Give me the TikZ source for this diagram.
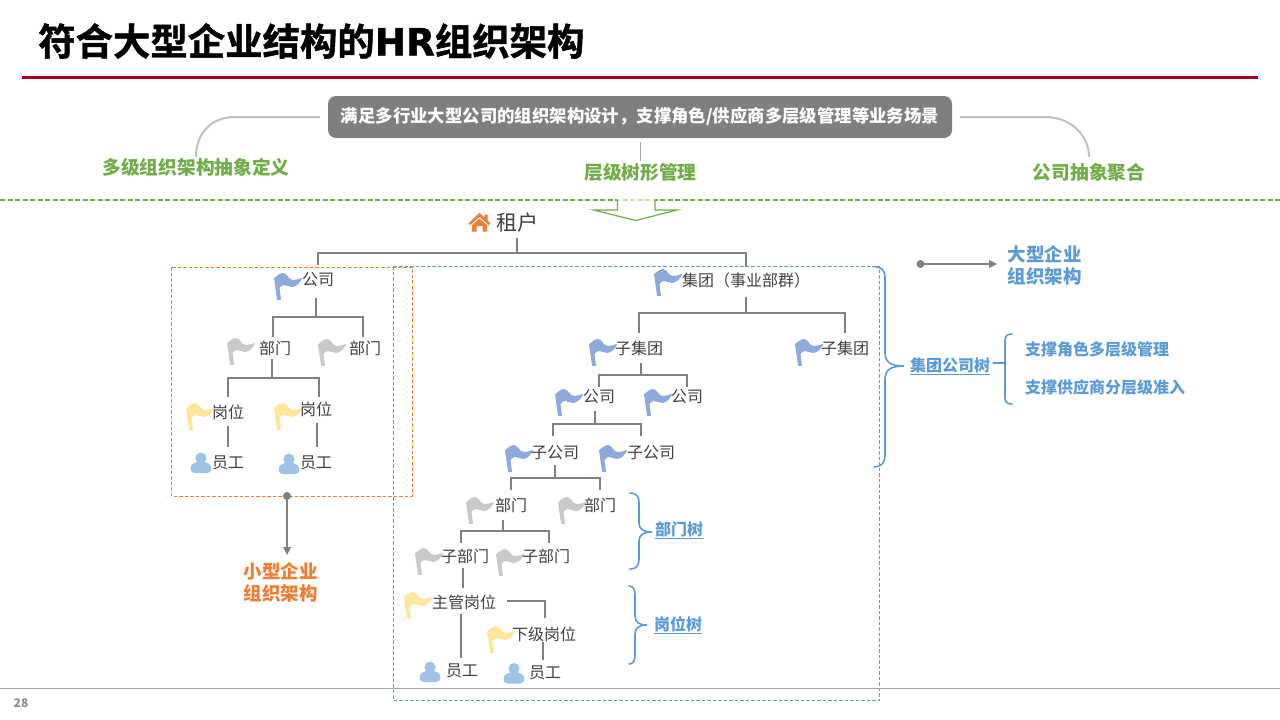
\documentclass[tikz,border=0pt]{standalone}
\usepackage{fontspec}
\usetikzlibrary{calc}
\setmainfont{Noto Sans CJK SC}
\newfontfamily\heavyfont[FakeBold=1.2]{Noto Sans CJK SC Bold}
\newfontfamily\heavylatin[FakeBold=1.2]{DejaVu Sans Bold}
\definecolor{txt}{HTML}{404040}
\definecolor{ln}{HTML}{7F7F7F}
\definecolor{blu}{HTML}{5B9BD5}
\definecolor{grn}{HTML}{70AD47}
\definecolor{org}{HTML}{ED7D31}
\definecolor{redl}{HTML}{A50021}
\definecolor{fblue}{HTML}{8EA9DB}
\definecolor{fgrey}{HTML}{C9C9C9}
\definecolor{fyel}{HTML}{FFE699}
\definecolor{pers}{HTML}{9DC3E6}
\tikzset{
  lab/.style={inner sep=0pt,text=txt,font=\fontsize{16}{18}\selectfont},
  conn/.style={draw=ln,line width=2pt},
  greenlab/.style={inner sep=0pt,text=grn,font=\fontsize{18.7}{22}\selectfont\bfseries},
  bluelab/.style={inner sep=0pt,text=blu,font=\fontsize{16}{20}\selectfont\bfseries},
  bigblue/.style={inner sep=0pt,text=blu,align=center,font=\fontsize{18.5}{22}\selectfont\bfseries},
  brace/.style={draw=blu,line width=1.6pt,line cap=round},
  arc/.style={draw=black!25,line width=2pt}
}
\newcommand\flagicon[3]{%
  \filldraw[#3,line width=.9pt,line join=round,shift={(#1,#2)}] (0.5,5.5) .. controls (3,3.5) and (6,0.5) .. (9,0.5)
    .. controls (13,0.5) and (14,7.5) .. (19,7.5) .. controls (22,7.5) and (25,6.5) .. (27.5,5.5)
    .. controls (26,9) and (22,13.5) .. (18,13.5) .. controls (15,13.5) and (13,11.5) .. (10,11.5)
    .. controls (8,11.5) and (6,13) .. (5,15) -- (6.5,26.5) -- (3.5,26.5) -- cycle;}
\newcommand\personicon[2]{%
  \fill[pers,shift={(#1,#2)}] (0,6.6) circle[radius=5.6];
  \fill[pers,shift={(#1,#2)}] (-10.3,17) .. controls (-10.3,13) and (-7,11) .. (-4,10.5)
    -- (4,10.5) .. controls (7,11) and (10.3,13) .. (10.3,17)
    .. controls (10.3,20.5) and (8,21.5) .. (6,21.5) -- (-6,21.5) .. controls (-8,21.5) and (-10.3,20.5) .. (-10.3,17) -- cycle;}
\begin{document}
\begin{tikzpicture}[x=1pt,y=-1pt]
\useasboundingbox (0,0) rectangle (1280,720);
\fill[white] (0,0) rectangle (1280,720);
% title
\node[inner sep=0pt,anchor=west,text=black,font=\fontsize{37.4}{42}\selectfont\heavyfont] (title) at (38,41) {符合大型企业结构的{\heavylatin HR}组织架构};
\coordinate (ruleL) at (22,77); \coordinate (ruleR) at (1258,77);
\draw[redl,line width=3pt] (ruleL) -- (ruleR);
% banner
\node[fill=ln,rounded corners=8pt,minimum width=624pt,minimum height=42pt,inner sep=0pt,text=white,font=\fontsize{17.4}{20}\selectfont\bfseries] (banner) at (640,117) {\raisebox{3.5pt}{满足多行业大型公司的组织架构设计，支撑角色/供应商多层级管理等业务场景}};
\node[greenlab] (gl) at (196,167) {多级组织架构抽象定义};
\node[greenlab] (gm) at (640.5,172) {层级树形管理};
\node[greenlab] (gr) at (1089,172) {公司抽象聚合};
\draw[arc] ([xshift=-8]banner.west) -- ++(-85,0) .. controls +(-25,0) and +(0,-22) .. ([yshift=1]gl.north);
\draw[arc] ([xshift=8]banner.east) -- ++(85,0) .. controls +(25,0) and +(0,-22) .. ([yshift=6]gr.north);
\draw[draw=black!35,line width=1pt] ([yshift=-4]banner.south) -- ([yshift=2]banner.south |- gm.north);
% green dashed
\coordinate (dashL) at (0,200); \coordinate (dashR) at (1280,200);
\draw[grn,line width=1.5pt,dash pattern=on 5pt off 2.5pt] (dashL) -- (dashR);
\fill[white,opacity=.6] (617,199) rectangle (655,201);
\draw[grn,line width=1.2pt] (617.5,200) -- (617.5,210) -- (594,210) -- (635.5,220.5) -- (677,210) -- (655,210) -- (655,200);
% home
\fill[org] (479.5,213) -- (484.5,217.5) -- (484.5,214.5) -- (487.5,214.5) -- (487.5,220.3) -- (490.5,223.3) -- (488.7,225) -- (479.5,216.8) -- (470.3,225) -- (468.5,223.3) -- cycle;
\fill[org] (479.5,218.5) -- (487,225.2) -- (487,231.5) -- (482.5,231.5) -- (482.5,226) -- (476.5,226) -- (476.5,231.5) -- (472,231.5) -- (472,225.2) -- cycle;
\node[lab,font=\fontsize{21}{24}\selectfont] (root) at (517,223) {租户};
% boxes
\draw[org,line width=1pt,dash pattern=on 3.5pt off 2pt] (171.5,267) rectangle (412,496);
\draw[blu,line width=1pt,dash pattern=on 3.5pt off 2pt] (393,266) rectangle (879.5,700);
% left tree
\flagicon{274}{273}{fblue}
\node[lab] (co) at (318,280) {公司};
\flagicon{227}{338}{fgrey}
\node[lab] (d1) at (275,348) {部门};
\flagicon{318}{339}{fgrey}
\node[lab] (d2) at (365,348) {部门};
\flagicon{186}{403}{fyel}
\node[lab] (p1) at (228,412) {岗位};
\flagicon{274}{403}{fyel}
\node[lab] (p2) at (316,409) {岗位};
\personicon{201}{451.5}
\node[lab] (e1) at (228,463) {员工};
\personicon{289}{452.5}
\node[lab] (e2) at (316,463) {员工};
% right tree
\flagicon{654}{269}{fblue}
\node[lab] (grp) at (746,280) {集团（事业部群）};
\flagicon{589}{339}{fblue}
\node[lab] (sg1) at (639,348) {子集团};
\flagicon{795}{339}{fblue}
\node[lab] (sg2) at (845,348) {子集团};
\flagicon{555}{389}{fblue}
\node[lab] (c1) at (599,397) {公司};
\flagicon{644}{389}{fblue}
\node[lab] (c2) at (687,397) {公司};
\flagicon{505}{445}{fblue}
\node[lab] (sc1) at (555,453) {子公司};
\flagicon{599}{445}{fblue}
\node[lab] (sc2) at (651,453) {子公司};
\flagicon{466}{497}{fgrey}
\node[lab] (rd1) at (511,505) {部门};
\flagicon{558}{497}{fgrey}
\node[lab] (rd2) at (600,505) {部门};
\flagicon{415}{548}{fgrey}
\node[lab] (sd1) at (465,556) {子部门};
\flagicon{496}{549}{fgrey}
\node[lab] (sd2) at (546,556) {子部门};
\flagicon{404}{592}{fyel}
\node[lab] (mgr) at (464,602) {主管岗位};
\flagicon{487}{626}{fyel}
\node[lab] (sub) at (544,634) {下级岗位};
\personicon{430}{660.5}
\node[lab] (e3) at (462,671) {员工};
\personicon{514}{662}
\node[lab] (e4) at (545,673) {员工};
% connectors
\draw[conn] ([shift={(0,15)}]root.center) -- ++(0,15) -| ([shift={(0,-15)}]co.center);
\draw[conn] ([shift={(0,15)}]root.center) -- ++(0,15) -| ([shift={(0,-13)}]grp.center);
\draw[conn] ([shift={(-2,18)}]co.center) -- ++(0,19) -| ([shift={(-2,-11)}]d1.center);
\draw[conn] ([shift={(-2,18)}]co.center) -- ++(0,19) -| ([shift={(-2,-11)}]d2.center);
\draw[conn] ([shift={(-3,11)}]d1.center) -- ++(0,19) -| ([shift={(0,-15)}]p1.center);
\draw[conn] ([shift={(-3,11)}]d1.center) -- ++(0,19) -| ([shift={(3,-12)}]p2.center);
\draw[conn] ([shift={(0,14)}]p1.center) -- ([shift={(0,-16)}]e1.center);
\draw[conn] ([shift={(1,14)}]p2.center) -- ([shift={(1,-16)}]e2.center);
\draw[conn] ([shift={(0,17)}]grp.center) -- ++(0,16) -| ([shift={(0,-15)}]sg1.center);
\draw[conn] ([shift={(0,17)}]grp.center) -- ++(0,16) -| ([shift={(0,-15)}]sg2.center);
\draw[conn] ([shift={(2,15)}]sg1.center) -- ++(0,12) -| ([shift={(0,-10)}]c1.center);
\draw[conn] ([shift={(2,15)}]sg1.center) -- ++(0,12) -| ([shift={(0,-10)}]c2.center);
\draw[conn] ([shift={(-4,14)}]c1.center) -- ++(0,13) -| ([shift={(-2,-17)}]sc1.center);
\draw[conn] ([shift={(-4,14)}]c1.center) -- ++(0,13) -| ([shift={(-10,-17)}]sc2.center);
\draw[conn] ([shift={(0,12)}]sc1.center) -- ++(0,13) -| ([shift={(0,-15)}]rd1.center);
\draw[conn] ([shift={(0,12)}]sc1.center) -- ++(0,13) -| ([shift={(0,-15)}]rd2.center);
\draw[conn] ([shift={(-8,15)}]rd1.center) -- ++(0,11) -| ([shift={(-4,-13)}]sd1.center);
\draw[conn] ([shift={(-8,15)}]rd1.center) -- ++(0,11) -| ([shift={(3,-13)}]sd2.center);
\draw[conn] ([shift={(-2,12)}]sd1.center) -- ([shift={(-1,-14)}]mgr.center);
\draw[conn] ([shift={(43,-1)}]mgr.center) -| ([shift={(1,-16)}]sub.center);
\draw[conn] ([shift={(-3,12)}]mgr.center) -- ([shift={(-1,-13)}]e3.center);
\draw[conn] ([shift={(-1,8)}]sub.center) -- ([shift={(-2,-13)}]e4.center);
% arrows
\fill[ln] (287,496) circle[radius=4];
\node[inner sep=0pt,text=org,align=center,font=\fontsize{18.5}{22}\selectfont\bfseries] (small) at (280.5,582) {小型企业\\组织架构};
\draw[ln,line width=1.5pt] (287,496) -- (287,548);
\fill[ln] (283,547) -- (291,547) -- (287,555) -- cycle;
\node[bigblue] (large) at (1044.5,265) {大型企业\\组织架构};
\fill[ln] (920.5,264) circle[radius=4];
\draw[ln,line width=1.5pt] (920.5,264) -- (990,264);
\fill[ln] (989,260) -- (989,268) -- (997,264) -- cycle;
% braces
\node[bluelab] (tgrp) at (950,366) {\underline{集团公司树}};
\node[bluelab] (tdep) at (679,530) {\underline{部门树}};
\node[bluelab] (tpos) at (678,625) {\underline{岗位树}};
\draw[brace] (874,266.5) .. controls (881,266.5) and (885,270) .. (885,278) -- (885,352) .. controls (885,362) and (890,366) .. (904,366)
  .. controls (890,366) and (885,370) .. (885,380) -- (885,455) .. controls (885,463) and (881,467) .. (874,467);
\draw[brace] (630,493) .. controls (636,493) and (639,496) .. (639,503) -- (639,523) .. controls (639,529) and (643,532) .. (652,532)
  .. controls (643,532) and (639,535) .. (639,541) -- (639,559) .. controls (639,566) and (636,569) .. (630,569);
\draw[brace] (629,586) .. controls (633,586) and (635,589) .. (635,595) -- (635,616) .. controls (635,622) and (639,625) .. (647,625)
  .. controls (639,625) and (635,628) .. (635,634) -- (635,655) .. controls (635,661) and (633,664) .. (629,664);
\node[bluelab,anchor=west] (s1) at (1025,349) {支撑角色多层级管理};
\node[bluelab,anchor=west] (s2) at (1025,387) {支撑供应商分层级准入};
\draw[brace] (1012,334) .. controls (1007,334) and (1005,336) .. (1005,341) -- (1005,398) .. controls (1005,402) and (1007,404) .. (1012,404);
\draw[brace] ([shift={(3,-3)}]tgrp.east) -- ++(12,0);
% footer
\coordinate (footL) at (0,688); \coordinate (footR) at (1280,688);
\draw[black!35,line width=1pt] (footL) -- (footR);
\node[inner sep=0pt,text=black!45,font=\fontsize{12}{14}\selectfont\bfseries] (pg) at (21,703) {28};
\end{tikzpicture}
\end{document}
